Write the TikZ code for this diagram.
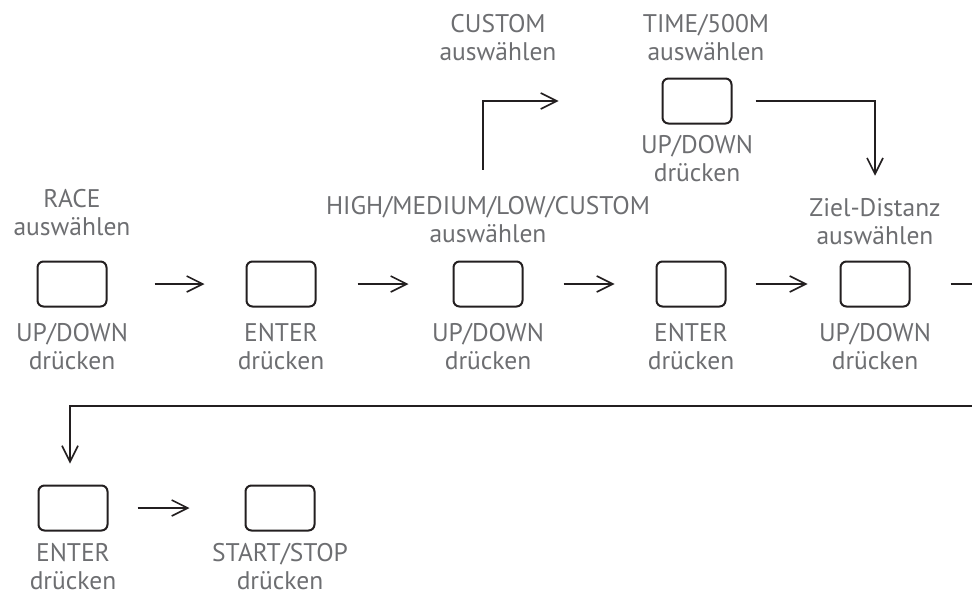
\documentclass[tikz,border=0pt]{standalone}
\usepackage{fontspec}
\setmainfont{PT Sans}
\usetikzlibrary{arrows.meta, positioning, calc}
\definecolor{txtgray}{HTML}{6D6E71}
\definecolor{inkline}{HTML}{231F20}

\begin{document}
\begin{tikzpicture}[
    x=1pt, y=-1pt,
    every node/.style={font=\fontsize{25.5}{28}\selectfont},
    btn/.style={draw=inkline, line width=2pt, rounded corners=6pt, minimum width=69pt, minimum height=45pt},
    lbl/.style={text=txtgray, align=center, inner sep=0pt},
    arr/.style={draw=inkline, line width=1.6pt, -{Straight Barb[length=16pt, width=16pt, line width=1.6pt]}}
]
\useasboundingbox (0,0) rectangle (972,597);
\clip (0,0) rectangle (972,597);
% Row 1 buttons
\node[btn] (b1) at (72,284) {};
\node[btn] (b2) at (281,284) {};
\node[btn] (b3) at (488,284) {};
\node[btn] (b4) at (691,284) {};
\node[btn] (b5) at (875,284) {};
% Branch button
\node[btn] (bt) at (697,101) {};
% Row 2 buttons
\node[btn] (b6) at (73,508) {};
\node[btn] (b7) at (280,508) {};
% Labels above
\node[lbl, anchor=south] (race) at ([yshift=24pt]b1.north) {RACE\\auswählen};
\node[lbl, anchor=south] (hi) at ([yshift=17pt]b3.north) {HIGH/MEDIUM/LOW/CUSTOM\\auswählen};
\node[lbl, anchor=south] (zl) at ([yshift=15pt]b5.north) {Ziel-Distanz\\auswählen};
\node[lbl, anchor=south] (cust) at (498,61) {CUSTOM\\auswählen};
\node[lbl, anchor=south] (time) at ([xshift=9pt, yshift=16pt]bt.north) {TIME/500M\\auswählen};
% Labels below
\node[lbl, anchor=north] (p1) at ([yshift=-16pt]b1.south) {UP/DOWN\\drücken};
\node[lbl, anchor=north] (p2) at ([yshift=-16pt]b2.south) {ENTER\\drücken};
\node[lbl, anchor=north] (p3) at ([yshift=-16pt]b3.south) {UP/DOWN\\drücken};
\node[lbl, anchor=north] (p4) at ([yshift=-16pt]b4.south) {ENTER\\drücken};
\node[lbl, anchor=north] (p5) at ([yshift=-16pt]b5.south) {UP/DOWN\\drücken};
\node[lbl, anchor=north] (pt) at ([yshift=-11pt]bt.south) {UP/DOWN\\drücken};
\node[lbl, anchor=north] (p6) at ([yshift=-12pt]b6.south) {ENTER\\drücken};
\node[lbl, anchor=north] (p7) at ([yshift=-12pt]b7.south) {START/STOP\\drücken};
% Arrows
\draw[arr, shorten <=47pt, shorten >=41pt] (b1) -- (b2);
\draw[arr, shorten <=41pt, shorten >=44pt] (b2) -- (b3);
\draw[arr, shorten <=40pt, shorten >=41pt] (b3) -- (b4);
\draw[arr, shorten <=29pt, shorten >=32pt] (b4) -- (b5);
\draw[arr, shorten <=29pt, shorten >=55pt] (b6) -- (b7);
% Branch
\coordinate (turnC) at (483,99);
\draw[arr, shorten <=27pt, shorten >=103pt] (turnC |- hi.north) |- (bt.west);
\draw[arr, shorten <=23pt, shorten >=23pt] (bt.east) -| (zl.north);
% Return to second row
\coordinate (loopR) at (990,284);
\coordinate (backL) at (70,406);
\draw[arr, shorten <=40pt, shorten >=21pt] (b5.east) -- (loopR) |- (backL) -- (backL |- b6.north);
\end{tikzpicture}
\end{document}
